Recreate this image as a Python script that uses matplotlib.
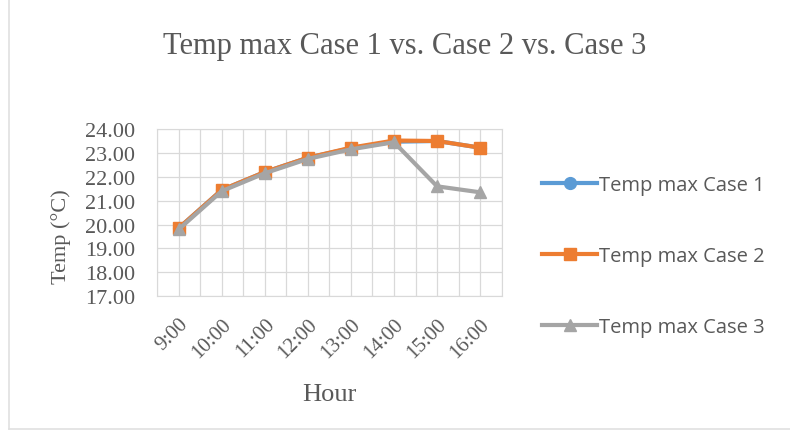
import matplotlib.pyplot as plt
from matplotlib.lines import Line2D

# Hourly maximum temperature for the three cases
hours = ['9:00', '10:00', '11:00', '12:00', '13:00', '14:00', '15:00', '16:00']
case1 = [19.85, 21.45, 22.2, 22.8, 23.2, 23.47, 23.5, 23.22]
case2 = [19.85, 21.45, 22.2, 22.8, 23.22, 23.52, 23.5, 23.22]
case3 = [19.8, 21.4, 22.15, 22.75, 23.15, 23.45, 21.6, 21.35]
yticks = [17, 18, 19, 20, 21, 22, 23, 24]

grey = '#595959'
serif = 'Liberation Serif'

fig = plt.figure(figsize=(7.9, 4.35), dpi=100)
ax = fig.add_axes([0.199, 0.317, 0.436, 0.384])

x = range(len(hours))
ax.plot(x, case1, color='#5B9BD5', lw=3, marker='o', ms=8.5, label='Temp max Case 1', zorder=3)
ax.plot(x, case2, color='#ED7D31', lw=3, marker='s', ms=8, label='Temp max Case 2', zorder=4)
ax.plot(x, case3, color='#A5A5A5', lw=3, marker='^', ms=8.5, label='Temp max Case 3', zorder=5)

ax.set_xlim(-0.5, len(hours) - 0.5)
ax.set_ylim(17, 24)
ax.set_xticks(list(x))
ax.set_xticklabels(hours, rotation=45, ha='right', rotation_mode='anchor',
                   fontsize=15, family=serif, color=grey)
ax.set_yticks(yticks)
ax.set_yticklabels([f'{v:.2f}' for v in yticks], fontsize=16, family=serif, color=grey)

# gridlines at category centres and boundaries
for i in range(len(hours) * 2 + 1):
    ax.axvline(-0.5 + i * 0.5, color='#D9D9D9', lw=0.9, zorder=1)
for v in yticks:
    ax.axhline(v, color='#D9D9D9', lw=0.9, zorder=1)

for s in ax.spines.values():
    s.set_color('#D9D9D9')
ax.tick_params(axis='y', length=0, pad=16)
ax.tick_params(axis='x', length=0, pad=13)

fig.text(0.512, 0.893, 'Temp max Case 1 vs. Case 2 vs. Case 3', family=serif,
         fontsize=22, color=grey, ha='center', va='center')
ax.set_xlabel('Hour', family=serif, fontsize=19, color=grey)
ax.xaxis.set_label_coords(0.5, -0.52)
ax.set_ylabel('Temp (°C)', family=serif, fontsize=16, color=grey)
ax.yaxis.set_label_coords(-0.25, 0.36)

leg = ax.legend(loc='center left', bbox_to_anchor=(0.686, 0.409),
                bbox_transform=fig.transFigure, frameon=False,
                borderaxespad=0, borderpad=0,
                labelspacing=2.55, handlelength=2.75, handletextpad=0.1,
                prop={'family': 'Open Sans', 'size': 14.5})
for t in leg.get_texts():
    t.set_color(grey)

# faint chart border on the left and bottom
fig.add_artist(Line2D([0.012, 0.012], [0.012, 1.0], transform=fig.transFigure,
                      color='#E0E0E0', lw=1.2))
fig.add_artist(Line2D([0.012, 1.0], [0.012, 0.012], transform=fig.transFigure,
                      color='#E0E0E0', lw=1.2))

fig.savefig('out.png', dpi=100)
